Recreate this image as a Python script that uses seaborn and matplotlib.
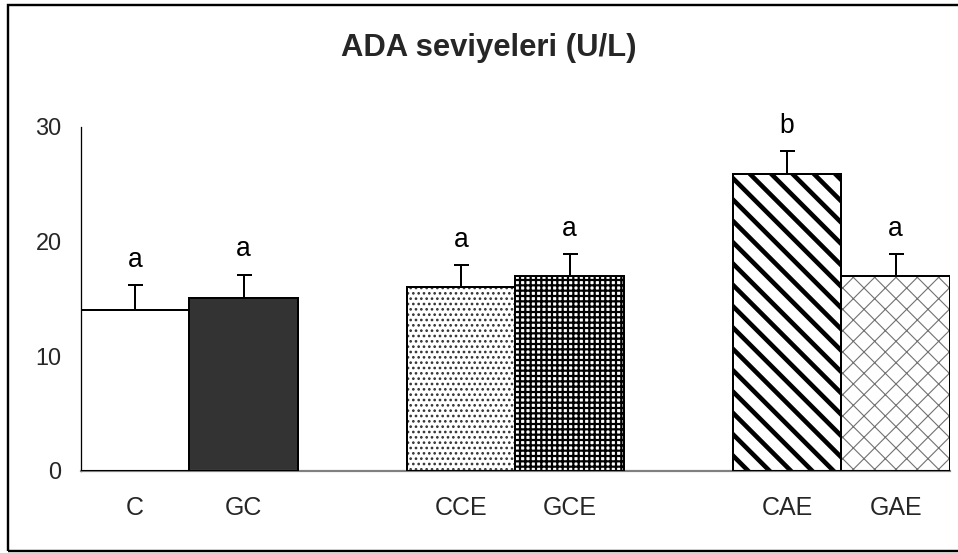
import matplotlib
matplotlib.use("Agg")
import matplotlib.pyplot as plt
from matplotlib.patches import Rectangle
import numpy as np
import pandas as pd
import seaborn as sns

# Group means and upper error (U/L)
groups = ["C", "GC", "CCE", "GCE", "CAE", "GAE"]
means = [14.0, 15.1, 16.0, 17.0, 25.9, 17.0]
errors = [2.2, 2.0, 1.9, 1.9, 2.0, 1.9]
letters = ["a", "a", "a", "a", "b", "a"]
slot_order = ["C", "GC", " ", "CCE", "GCE", "  ", "CAE", "GAE"]
y_ticks = [0, 10, 20, 30]

title = "ADA seviyeleri (U/L)"

DPI = 64
W, H = 958, 553


def pt(px):
    """Convert a size in output pixels to points."""
    return px * 72.0 / DPI


# fill, hatch, hatch colour, hatch line width (px) for each group
styles = {
    "C":   ("white",   None,  "black",   1.0),
    "GC":  ("#333333", None,  "black",   1.0),
    "CCE": ("white",   "..",  "#333333", 1.6),
    "GCE": ("white",   "++",  "black",   2.2),
    "CAE": ("white",   "\\",  "black",   4.6),
    "GAE": ("white",   "x",   "#707070", 1.1),
}

sns.set_style("white")
plt.rcParams["font.family"] = ["Liberation Sans", "DejaVu Sans"]

fig = plt.figure(figsize=(W / DPI, H / DPI), dpi=DPI)
ax = fig.add_axes([80.5 / W, 1 - 470.7 / H, (950 - 80.5) / W, (470.7 - 126.7) / H])

df = pd.DataFrame({"group": groups, "value": means})
sns.barplot(data=df, x="group", y="value", order=slot_order, width=1.0,
            errorbar=None, ax=ax, color="white", saturation=1)

# style each bar according to its group
for patch in list(ax.patches):
    xc = patch.get_x() + patch.get_width() / 2
    name = slot_order[int(round(xc))]
    face, hatch, hcol, hlw = styles[name]
    patch.set_facecolor(face)
    patch.set_edgecolor(hcol)
    patch.set_linewidth(0)
    if hatch:
        patch.set_hatch(hatch)
        if hasattr(patch, "set_hatch_linewidth"):
            patch.set_hatch_linewidth(pt(hlw))
    ax.add_patch(Rectangle((patch.get_x(), patch.get_y()), patch.get_width(),
                           patch.get_height(), fill=False, edgecolor="black",
                           linewidth=pt(2.0), zorder=3))

xpos = [slot_order.index(g) for g in groups]
ax.errorbar(xpos, means, yerr=[np.zeros(len(errors)), errors], fmt="none",
            ecolor="black", elinewidth=pt(2.0), capsize=pt(7.5),
            capthick=pt(2.0), zorder=4)

for x, m, e, t in zip(xpos, means, errors, letters):
    ax.text(x, m + e + 2.2, t, ha="center", va="center",
            fontsize=pt(26.5), color="black")

ax.set_ylim(0, 30)
ax.set_xlim(-0.5, len(slot_order) - 0.5)
ax.set_yticks(y_ticks)
ax.set_yticklabels([str(v) for v in y_ticks], fontsize=pt(23.5))
ax.set_xticks(xpos)
ax.set_xticklabels(groups, fontsize=pt(25))
ax.set_xticks(np.arange(len(slot_order) + 1) - 0.5, minor=True)
ax.tick_params(axis="x", which="major", length=0, pad=pt(25))
ax.tick_params(axis="x", which="minor", length=pt(7), width=pt(1.2),
               color="black", direction="out")
ax.tick_params(axis="y", which="major", length=pt(8), width=pt(2),
               color="#808080", direction="out", pad=pt(11))
ax.set_xlabel("")
ax.set_ylabel("")

for s in ["top", "right"]:
    ax.spines[s].set_visible(False)
ax.spines["left"].set_color("black")
ax.spines["left"].set_linewidth(pt(1.3))
ax.spines["bottom"].set_color("#808080")
ax.spines["bottom"].set_linewidth(pt(2.2))

fig.text(489 / W, 1 - 48 / H, title, ha="center", va="center",
         fontsize=pt(31), fontweight="bold")

# outer chart frame
fig.patches.append(Rectangle((8 / W, 2 / H), 1.2, 546 / H, fill=False,
                             edgecolor="black", linewidth=pt(2.4),
                             transform=fig.transFigure, figure=fig))

fig.savefig("out.png", dpi=DPI, facecolor="white")
